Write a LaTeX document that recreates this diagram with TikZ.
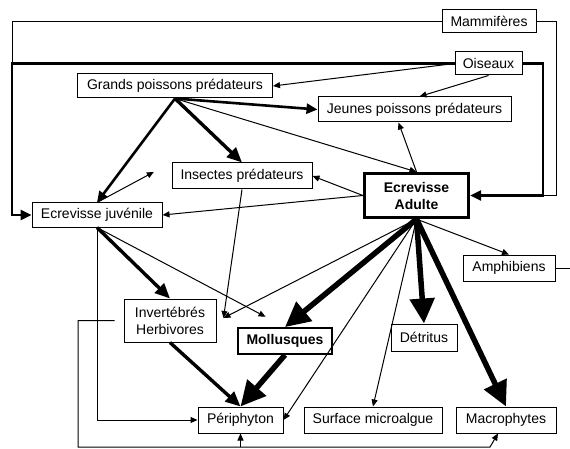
\documentclass[tikz,border=0pt]{standalone}
\usepackage{fontspec}
\setmainfont{Liberation Sans}
\usetikzlibrary{arrows.meta}

\begin{document}
\begin{tikzpicture}
  [x=1pt,y=-1pt,
   every node/.style={draw,line width=1pt,inner sep=2pt,minimum height=24pt,
     font=\fontsize{14}{17}\selectfont,align=center},
   trait/.style={line width=1pt},
   fin/.style={line width=1pt,-{Triangle[length=7pt,width=6pt]}},
   moyen/.style={line width=2.6pt,-{Triangle[length=11pt,width=10pt]}},
   fort/.style={line width=3.4pt,-{Triangle[length=15pt,width=13pt]}},
   tresfort/.style={line width=5.5pt,-{Triangle[length=25pt,width=24pt]}}]

  \useasboundingbox (0,0) rectangle (570,449);

  \node (mam) at (489,21.5)  [minimum width=94pt,minimum height=23pt] {Mammifères};
  \node (ois) at (488.5,63.5) [minimum width=67pt,minimum height=23pt] {Oiseaux};
  \node (gra) at (175,86)    [minimum width=195pt] {Grands poissons prédateurs};
  \node (jeu) at (414.5,109.5) [minimum width=193pt,minimum height=25pt] {Jeunes poissons prédateurs};
  \node (ins) at (242,176)   [minimum width=140pt,minimum height=26pt] {Insectes prédateurs};
  \node (adu) at (416.5,195.5) [minimum width=104pt,minimum height=44pt,line width=3.2pt,
                                font=\fontsize{14}{17}\selectfont\bfseries] {Ecrevisse\\Adulte};
  \node (juv) at (97,215)    [minimum width=130pt] {Ecrevisse juvénile};
  \node (amp) at (509,268)   [minimum width=92pt,minimum height=26pt] {Amphibiens};
  \node (inv) at (170,320.5) [minimum width=92pt,minimum height=43pt] {Invertébrés\\Herbivores};
  \node (mol) at (285,341)   [minimum width=94pt,minimum height=26pt,line width=1.8pt,
                              font=\fontsize{14}{17}\selectfont\bfseries] {Mollusques};
  \node (det) at (424,337.5) [minimum width=66pt,minimum height=27pt] {Détritus};
  \node (per) at (240.5,420) [minimum width=85pt,minimum height=26pt] {Périphyton};
  \node (sur) at (373,420)   [minimum width=138pt,minimum height=26pt] {Surface microalgue};
  \node (mac) at (506,420)   [minimum width=100pt,minimum height=26pt] {Macrophytes};

  \coordinate (lois) at (12,63.5);
  \coordinate (ljuv) at (12,215);
  \coordinate (ladu) at (543,195.5);
  \coordinate (lmam) at (556,195.5);
  \coordinate (lamp) at (575,268);
  \coordinate (ginv) at (78,320.5);
  \coordinate (bas)  at (490,447);

  % liaisons du cadre
  \draw[trait] (mam.west) -| (lois);
  \draw[moyen] (ois.west) -| (ljuv) -- (juv.west);
  \draw[trait] (mam.east) -| (lmam) -- (ladu);
  \draw[moyen] (ois.east) -| (ladu) -- (adu.east);
  \draw[trait] (amp.east) -- (lamp);
  \draw[fin,shorten <=9pt] (inv.west) -- (ginv) |- (bas) -- ([xshift=-8pt]mac.south);
  \draw[fin] (per.south |- bas) -- (per.south);
  \draw[fin] (juv.south) |- (per.west);

  % flux faibles
  \foreach \from/\to in {ois.west/gra.east,gra.south/adu.north,adu.west/ins.east,
                         adu.west/juv.east,adu.south/amp.north,adu.south/per.east,
                         adu.south/sur.north}
    \draw[fin] (\from) -- (\to);
  \draw[fin] (ois.south) -- ([xshift=5pt]jeu.north);
  \draw[fin] (adu.north) -- ([xshift=-16pt]jeu.south);
  \draw[fin] (ins.south) -- ([xshift=7pt,yshift=2.5pt]inv.east);
  \draw[fin] (adu.south) -- ([xshift=7pt,yshift=2.5pt]inv.east);
  \draw[fin,shorten >=20pt] (juv.north) -- (ins.north west);
  \draw[fin,shorten >=22pt] (juv.south) -- (mol.north);

  % flux forts
  \foreach \from/\to in {gra.south/jeu.west,gra.south/juv.north}
    \draw[moyen] (\from) -- (\to);
  \foreach \from/\to in {gra.south/ins.north,juv.south/inv.north,inv.south/per.north}
    \draw[fort] (\from) -- (\to);
  \foreach \from/\to in {mol.south/per.north,adu.south/mol.north,adu.south/det.north,
                         adu.south/mac.north}
    \draw[tresfort] (\from) -- (\to);

\end{tikzpicture}
\end{document}
